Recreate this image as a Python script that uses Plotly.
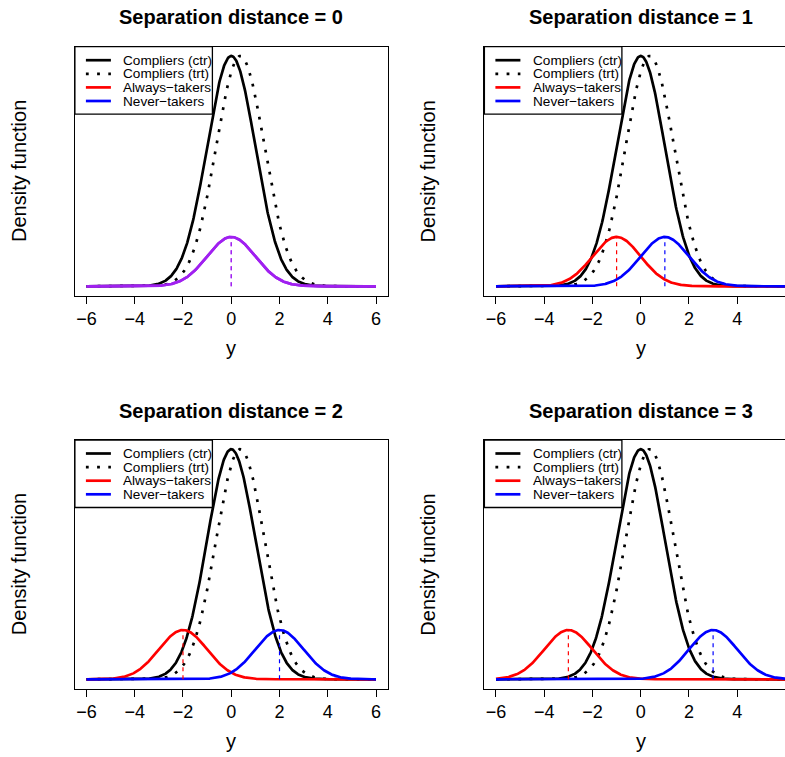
import numpy as np
import plotly.graph_objects as go

# ---------------- data ----------------
separation = [0, 1, 2, 3]                 # distance of always-/never-takers from 0
panel_titles = ["Separation distance = 0", "Separation distance = 1",
                "Separation distance = 2", "Separation distance = 3"]
weight_compliers = 0.70                    # mixture weight of compliers
weight_always = 0.15                       # mixture weight of always-takers
weight_never = 0.15                        # mixture weight of never-takers
mean_ctr = 0.0                             # compliers (ctr) centre
mean_trt = 0.375                           # compliers (trt) centre
sd_all = 1.0
y_grid = np.linspace(-6, 6, 601)
tick_values = [-6, -4, -2, 0, 2, 4, 6]
legend_labels = ["Compliers (ctr)", "Compliers (trt)", "Always\u2212takers", "Never\u2212takers"]
x_label = "y"
y_label = "Density function"


def density(y, mu, w, sd=sd_all):
    return w * np.exp(-0.5 * ((y - mu) / sd) ** 2) / (sd * np.sqrt(2 * np.pi))


# ---------------- layout helpers ----------------
W, H = 785, 757
FONT = "Liberation Sans, Arial, Helvetica, sans-serif"


def px_x(p):
    return p / W


def px_y(p):
    return 1 - p / H


cols = [(74.9, 387.6, 387.6), (484.4, 785.0, 797.0)]   # (left, visible right, true right)
rows = [(46.7, 295.5), (440.0, 688.5)]
x_ranges = [[-6.48, 6.48], [-6.48, 5.98]]
ymax = density(0, 0, weight_compliers)
y_range = [-0.04 * ymax, 1.04 * ymax]

fig = go.Figure()
shapes = []
annotations = []
LW_MAIN = 2.7
LW_BOX = 1.3
DOT = "2.8px,8.4px"

for i, d in enumerate(separation):
    r, c = divmod(i, 2)
    left, right_vis, right_true = cols[c]
    top, bottom = rows[r]
    n = "" if i == 0 else str(i + 1)
    xa, ya = "x" + n, "y" + n

    always_col = "#A020F0" if d == 0 else "#FF0000"
    never_col = "#A020F0" if d == 0 else "#0000FF"

    ctr = density(y_grid, mean_ctr, weight_compliers)
    trt = density(y_grid, mean_trt, weight_compliers)
    alw = density(y_grid, mean_ctr - d, weight_always)
    nev = density(y_grid, mean_ctr + d, weight_never)

    fig.add_trace(go.Scatter(x=y_grid, y=ctr, mode="lines", xaxis=xa, yaxis=ya,
                             line=dict(color="black", width=LW_MAIN), showlegend=False))
    fig.add_trace(go.Scatter(x=y_grid, y=trt, mode="lines", xaxis=xa, yaxis=ya,
                             line=dict(color="black", width=LW_MAIN, dash=DOT),
                             showlegend=False))
    fig.add_trace(go.Scatter(x=y_grid, y=alw, mode="lines", xaxis=xa, yaxis=ya,
                             line=dict(color=always_col, width=LW_MAIN), showlegend=False))
    fig.add_trace(go.Scatter(x=y_grid, y=nev, mode="lines", xaxis=xa, yaxis=ya,
                             line=dict(color=never_col, width=LW_MAIN), showlegend=False))
    # dashed verticals at the two centres
    for mu, w, col in [(mean_ctr - d, weight_always, always_col),
                       (mean_ctr + d, weight_never, never_col)]:
        fig.add_trace(go.Scatter(x=[mu, mu], y=[0, density(mu, mu, w)], mode="lines",
                                 xaxis=xa, yaxis=ya,
                                 line=dict(color=col, width=1.2, dash="4px,4px"),
                                 showlegend=False))

    xdom = [px_x(left), px_x(right_vis)]
    ydom = [px_y(bottom), px_y(top)]
    fig.update_layout(**{
        ("xaxis" + n): dict(domain=xdom, range=x_ranges[c], anchor=ya,
                            tickvals=tick_values, ticks="outside", ticklen=7,
                            tickwidth=LW_BOX, tickcolor="black",
                            showline=True, linecolor="black", linewidth=LW_BOX,
                            mirror=True, showgrid=False, zeroline=False,
                            tickfont=dict(family=FONT, size=18, color="black")),
        ("yaxis" + n): dict(domain=ydom, range=y_range, anchor=xa,
                            showticklabels=False, ticks="",
                            showline=True, linecolor="black", linewidth=LW_BOX,
                            mirror=(c == 0), showgrid=False, zeroline=False),
    })

    # title, axis labels
    cx = (left + right_true) / 2
    annotations.append(dict(text="<b>" + panel_titles[i] + "</b>", xref="paper", yref="paper",
                            x=px_x(cx), y=px_y(top - 29.5), showarrow=False,
                            xanchor="center", yanchor="middle",
                            font=dict(family=FONT, size=20, color="black")))
    annotations.append(dict(text=x_label, xref="paper", yref="paper",
                            x=px_x(cx), y=px_y(bottom + 52), showarrow=False,
                            xanchor="center", yanchor="middle",
                            font=dict(family=FONT, size=20, color="black")))
    annotations.append(dict(text=y_label, xref="paper", yref="paper",
                            x=px_x(left - 56), y=px_y((top + bottom) / 2), showarrow=False,
                            textangle=-90, xanchor="center", yanchor="middle",
                            font=dict(family=FONT, size=20, color="black")))

    # legend box
    lb_w, lb_h = 137.5, 67.5
    shapes.append(dict(type="rect", xref="paper", yref="paper",
                       x0=px_x(left), x1=px_x(left + lb_w), y0=px_y(top), y1=px_y(top + lb_h),
                       line=dict(color="black", width=LW_BOX), fillcolor="white", layer="above"))
    styles = [("black", "solid"), ("black", DOT), ("#FF0000", "solid"), ("#0000FF", "solid")]
    for k, (lab, (col, dsh)) in enumerate(zip(legend_labels, styles)):
        yy = top + 13.5 + 13.6 * k
        shapes.append(dict(type="line", xref="paper", yref="paper",
                           x0=px_x(left + 11), x1=px_x(left + 36), y0=px_y(yy), y1=px_y(yy),
                           line=dict(color=col, width=LW_MAIN, dash=dsh), layer="above"))
        annotations.append(dict(text=lab, xref="paper", yref="paper",
                                x=px_x(left + 46.5), y=px_y(yy), showarrow=False,
                                xanchor="left", yanchor="middle",
                                font=dict(family=FONT, size=13.6, color="black")))

fig.update_layout(width=W, height=H, margin=dict(l=0, r=0, t=0, b=0),
                  paper_bgcolor="white", plot_bgcolor="white",
                  shapes=shapes, annotations=annotations, showlegend=False)

fig.write_html("out.html")
